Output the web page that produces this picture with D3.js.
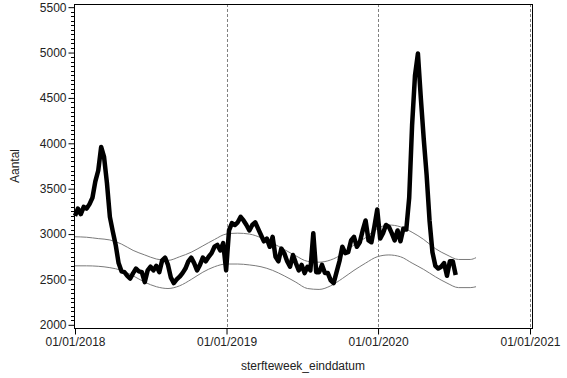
<!DOCTYPE html>
<html>
<head>
<meta charset="utf-8">
<script src="https://cdn.jsdelivr.net/npm/d3@7"></script>
<style>
  html, body { margin: 0; padding: 0; background: #fff; }
  svg { display: block; font-family: Arial, "Liberation Sans", sans-serif; }
</style>
</head>
<body>
<svg id="chart" width="567" height="378"></svg>
<script>
// ---- DATA ----
const startDate = "2018-01-01";           // first week
const weeklyDeaths = [
  3200, 3280, 3220, 3300, 3280, 3330, 3400, 3580, 3700, 3960,
  3850, 3560, 3190, 3030, 2880, 2680, 2590, 2580, 2540, 2510,
  2570, 2620, 2590, 2580, 2470, 2600, 2640, 2600, 2650, 2580,
  2710, 2740, 2660, 2520, 2460, 2500, 2530, 2570, 2620, 2700,
  2740, 2680, 2600, 2660, 2740, 2700, 2750, 2790, 2860, 2880,
  2820, 2900, 2600, 3040, 3120, 3100, 3130, 3190, 3150, 3100,
  3040, 3100, 3130, 3060, 2990, 2920, 2950, 2860, 2970, 2750,
  2700, 2840, 2790, 2700, 2640, 2770, 2680, 2600, 2660, 2570,
  2640, 2600, 3010, 2580, 2580, 2660, 2570, 2570, 2490, 2460,
  2580, 2700, 2860, 2790, 2800, 2930, 2970, 2860, 2910, 3040,
  3150, 2930, 2910, 3080, 3270, 2950, 3010, 3100, 3080, 3010,
  2930, 3040, 2920, 3060, 3050, 3400, 4200, 4750, 4990, 4500,
  4050, 3650, 3150, 2800, 2650, 2620, 2640, 2680, 2540, 2700,
  2700, 2550
];
// expected bands, sampled every 4 weeks (week index)
const bandWeeks = [0,4,8,12,16,20,24,28,32,36,40,44,48,52,56,60,64,68,72,76,80,84,88,92,96,100,104,108,112,116,120,124,128,132,136,138];
const upperBand = [2970,2965,2950,2935,2890,2820,2770,2725,2710,2750,2800,2870,2940,3000,3010,3000,2960,2900,2830,2760,2700,2690,2715,2780,2880,2960,3060,3100,3080,3020,2940,2840,2770,2720,2720,2740];
const lowerBand = [2650,2650,2645,2630,2600,2540,2470,2420,2400,2430,2500,2580,2640,2670,2670,2660,2640,2600,2540,2470,2400,2390,2430,2510,2600,2680,2750,2770,2750,2680,2610,2530,2460,2410,2410,2420];
const xTickDates = ["2018-01-01", "2019-01-01", "2020-01-01", "2021-01-01"];
const xTickLabels = ["01/01/2018", "01/01/2019", "01/01/2020", "01/01/2021"];
const refLineDates = ["2019-01-01", "2020-01-01", "2021-01-01"];
const yTicks = [2000, 2500, 3000, 3500, 4000, 4500, 5000, 5500];
const yLabel = "Aantal";
const xLabel = "sterfteweek_einddatum";

// ---- LAYOUT ----
const svg = d3.select("#chart");
const frame = { left: 74, right: 532, top: 4, bottom: 328 };
const parse = d3.utcParse("%Y-%m-%d");
const weekDate = i => d3.utcDay.offset(parse(startDate), 7 * i);

const x = d3.scaleUtc()
  .domain([parse("2018-01-01"), parse("2021-01-01")])
  .range([75, 530]);
const y = d3.scaleLinear()
  .domain([1965, 5535])
  .range([frame.bottom, frame.top]);

// reference lines
svg.append("g").selectAll("line")
  .data(refLineDates.map(parse))
  .join("line")
  .attr("x1", d => Math.round(x(d)) + 0.5).attr("x2", d => Math.round(x(d)) + 0.5)
  .attr("y1", frame.top).attr("y2", frame.bottom)
  .attr("stroke", "#808080").attr("stroke-width", 1)
  .attr("stroke-dasharray", "3,2");

// bands
const bandLine = d3.line()
  .x(d => x(weekDate(d[0])))
  .y(d => y(d[1]))
  .curve(d3.curveMonotoneX);
[upperBand, lowerBand].forEach(arr => {
  svg.append("path")
    .datum(bandWeeks.map((w, i) => [w, arr[i]]))
    .attr("d", bandLine)
    .attr("fill", "none")
    .attr("stroke", "#7a7a7a")
    .attr("stroke-width", 1);
});

// main series
const mainLine = d3.line()
  .x((d, i) => x(weekDate(i)))
  .y(d => y(d));
svg.append("path")
  .datum(weeklyDeaths)
  .attr("d", mainLine)
  .attr("fill", "none")
  .attr("stroke", "#000")
  .attr("stroke-width", 4.5)
  .attr("stroke-linejoin", "round")
  .attr("stroke-linecap", "butt");

// frame
svg.append("rect")
  .attr("x", frame.left + 0.5).attr("y", frame.top + 0.5)
  .attr("width", frame.right - frame.left).attr("height", frame.bottom - frame.top)
  .attr("fill", "none").attr("stroke", "#000").attr("stroke-width", 1);

// y axis ticks (major + minor)
const minor = d3.range(1950, 5551, 50).filter(v => y(v) >= frame.top && y(v) <= frame.bottom && v % 500 !== 0);
svg.append("g").selectAll("line.minor")
  .data(minor).join("line")
  .attr("x1", frame.left - 3).attr("x2", frame.left)
  .attr("y1", d => Math.round(y(d)) + 0.5).attr("y2", d => Math.round(y(d)) + 0.5)
  .attr("stroke", "#000");
const yAxis = d3.axisLeft(y).tickValues(yTicks).tickSize(6).tickPadding(2).tickFormat(d3.format("d"));
const gy = svg.append("g").attr("transform", `translate(${frame.left + 0.5},0)`).call(yAxis);
gy.select(".domain").remove();
gy.selectAll("text").attr("font-size", 12).attr("fill", "#222").attr("font-family", "Arial, 'Liberation Sans', sans-serif");

// x axis
const xAxis = d3.axisBottom(x).tickValues(xTickDates.map(parse)).tickSize(6).tickPadding(3)
  .tickFormat((d, i) => xTickLabels[i]);
const gx = svg.append("g").attr("transform", `translate(0,${frame.bottom + 0.5})`).call(xAxis);
gx.select(".domain").remove();
gx.selectAll("text").attr("font-size", 12).attr("fill", "#222").attr("font-family", "Arial, 'Liberation Sans', sans-serif");

// axis titles
svg.append("text")
  .attr("x", (frame.left + frame.right) / 2).attr("y", 370)
  .attr("text-anchor", "middle").attr("font-size", 12).attr("fill", "#222")
  .text(xLabel);
svg.append("text")
  .attr("transform", `translate(19,${(frame.top + frame.bottom) / 2}) rotate(-90)`)
  .attr("text-anchor", "middle").attr("font-size", 12).attr("fill", "#222")
  .text(yLabel);
</script>
</body>
</html>
